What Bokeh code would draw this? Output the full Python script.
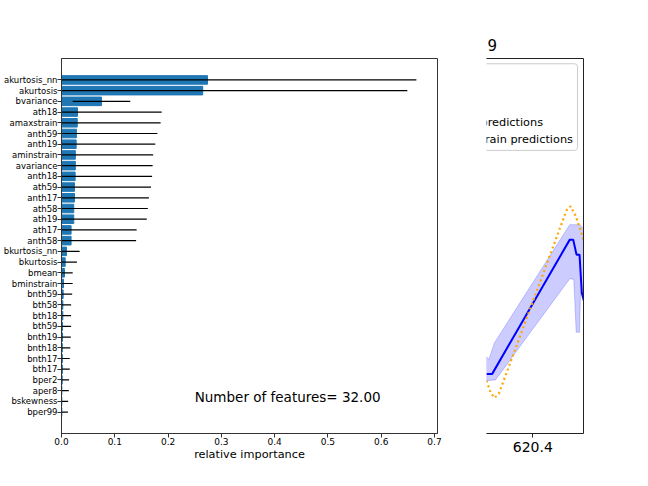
from bokeh.plotting import figure
from bokeh.models import (Range1d, FixedTicker, LinearAxis, Label,
                          ColumnDataSource, PrintfTickFormatter)
from bokeh.layouts import row
from bokeh.core.properties import value
from bokeh.embed import file_html
from bokeh.resources import INLINE

FONT = "DejaVu Sans"

# ---------------- data: left panel (feature importances) ----------------
features = ["akurtosis_nn", "akurtosis", "bvariance", "ath18", "amaxstrain", "anth59",
            "anth19", "aminstrain", "avariance", "anth18", "ath59", "anth17", "ath58",
            "ath19", "ath17", "anth58", "bkurtosis_nn", "bkurtosis", "bmean", "bminstrain",
            "bnth59", "bth58", "bth18", "bth59", "bnth19", "bnth18", "bnth17", "bth17",
            "bper2", "aper8", "bskewness", "bper99"]
importance = [0.274, 0.265, 0.075, 0.030, 0.0295, 0.028, 0.0275, 0.026, 0.026, 0.0256,
              0.0244, 0.0244, 0.023, 0.023, 0.018, 0.018, 0.0094, 0.0069, 0.0056, 0.0038,
              0.0031, 0.0025, 0.0025, 0.0019, 0.0019, 0.0016, 0.0016, 0.0016, 0.0013,
              0.0006, 0.0006, 0.0006]
importance_std = [0.392, 0.384, 0.054, 0.158, 0.1565, 0.152, 0.1485, 0.146, 0.145, 0.1444,
                  0.1436, 0.1396, 0.139, 0.137, 0.123, 0.122, 0.0246, 0.0221, 0.0154, 0.0172,
                  0.0169, 0.0155, 0.0155, 0.0161, 0.0156, 0.0149, 0.0139, 0.0139, 0.013,
                  0.0132, 0.0119, 0.0114]
x_ticks = [0.0, 0.1, 0.2, 0.3, 0.4, 0.5, 0.6, 0.7]
n_features_text = "Number of features= 32.00"

# ---------------- data: right panel (predictions) ----------------
mean_x = [620.2843, 620.2985, 620.4925, 620.5010, 620.5093, 620.5168, 620.5225, 620.5300]
mean_y = [1.59, 1.59, 5.17, 5.17, 4.77, 4.77, 3.75, 3.45]
upper_x = [620.2843, 620.2900, 620.3043, 620.4925, 620.5175, 620.5343]
upper_y = [2.05, 1.97, 2.42, 5.57, 5.57, 5.37]
lower_x = [620.2843, 620.3068, 620.4925, 620.5025, 620.5085, 620.5168, 620.5193, 620.5343]
lower_y = [1.41, 1.43, 4.13, 4.11, 2.70, 2.70, 3.77, 3.81]
obs_x = [620.2843, 620.2943, 620.3043, 620.3150, 620.4843, 620.4943, 620.5068, 620.5210, 620.5343]
obs_y = [1.41, 1.10, 0.95, 1.06, 5.95, 6.06, 5.81, 5.37, 4.88]
right_ticks = [620.4]
legend_labels = ["predictions", "train predictions"]
right_title = "9"

# ---------------- left figure ----------------
n = len(features)
ypos = [n - 1 - i for i in range(n)]
src = ColumnDataSource(dict(
    feature=features, imp=importance, y=ypos,
    lo=[m - s for m, s in zip(importance, importance_std)],
    hi=[m + s for m, s in zip(importance, importance_std)],
))

p = figure(width=478, height=470, x_range=Range1d(0, 0.7056), y_range=Range1d(-2, 33),
           output_backend="svg", toolbar_location=None,
           min_border_left=61, min_border_right=41, min_border_top=58, min_border_bottom=37)
p.background_fill_color = "white"
p.border_fill_color = "white"
p.xgrid.grid_line_color = None
p.ygrid.grid_line_color = None
p.outline_line_color = "#333333"
p.outline_line_width = 1

p.hbar(y="y", left=0, right="imp", height=0.8, fill_color="#1f77b4",
       line_color="#1f77b4", source=src)
p.segment(x0="lo", y0="y", x1="hi", y1="y", line_color="black", line_width=1.2, source=src)

p.xaxis.ticker = FixedTicker(ticks=x_ticks)
p.xaxis.formatter = PrintfTickFormatter(format="%.1f")
p.xaxis.axis_label = "relative importance"
p.xaxis.axis_label_text_font = FONT
p.xaxis.axis_label_text_font_size = "11.3px"
p.xaxis.axis_label_text_font_style = "normal"
p.xaxis.axis_label_text_color = "black"
p.xaxis.axis_label_standoff = 0
p.xaxis.major_label_text_font = FONT
p.xaxis.major_label_text_font_size = "9px"
p.xaxis.major_label_text_color = "black"
p.xaxis.major_label_standoff = 0
p.xaxis.major_tick_out = 4
p.xaxis.major_tick_in = 0
p.xaxis.minor_tick_line_color = None

p.yaxis.ticker = FixedTicker(ticks=ypos)
p.yaxis.major_label_overrides = {float(y): name for y, name in zip(ypos, features)}
p.yaxis.major_label_text_font = FONT
p.yaxis.major_label_text_font_size = "8.5px"
p.yaxis.major_label_text_color = "black"
p.yaxis.major_label_standoff = 0
p.yaxis.major_tick_out = 4
p.yaxis.major_tick_in = 0
p.yaxis.minor_tick_line_color = None
for ax in (p.xaxis, p.yaxis):
    ax.axis_line_color = "#333333"
    ax.major_tick_line_color = "#333333"

p.add_layout(Label(x=0.25, y=1.4, text=n_features_text, text_font=FONT,
                   text_font_size="13.5px", text_baseline="middle", text_color="black"))

# ---------------- right figure ----------------
p2 = figure(width=145, height=470, x_range=Range1d(620.28425, 620.52675),
            y_range=Range1d(0, 10), output_backend="svg", toolbar_location=None,
            min_border_left=8, min_border_right=40, min_border_top=58, min_border_bottom=37,
            y_axis_location=None, title=right_title)
p2.background_fill_color = "white"
p2.border_fill_color = "white"
p2.xgrid.grid_line_color = None
p2.ygrid.grid_line_color = None
p2.outline_line_color = None
p2.title.align = "left"
p2.title.offset = 1
p2.title.text_font = FONT
p2.title.text_font_size = "15px"
p2.title.text_font_style = "normal"
p2.title.text_color = "black"
p2.title.standoff = 16

p2.xaxis.ticker = FixedTicker(ticks=right_ticks)
p2.xaxis.major_label_text_font = FONT
p2.xaxis.major_label_text_font_size = "14px"
p2.xaxis.major_label_text_color = "black"
p2.xaxis.major_label_standoff = 4
p2.xaxis.major_tick_out = 4
p2.xaxis.major_tick_in = 0
p2.xaxis.minor_tick_line_color = None
p2.xaxis.axis_line_color = "#222222"
p2.xaxis.major_tick_line_color = "#222222"

for loc in ("above", "right"):
    ax = LinearAxis(ticker=FixedTicker(ticks=[]),
                    major_tick_out=0, major_tick_in=0, minor_tick_out=0, minor_tick_in=0,
                    major_label_standoff=0, axis_line_color="#222222",
                    major_tick_line_color=None, minor_tick_line_color=None)
    p2.add_layout(ax, loc)

band_x = upper_x + lower_x[::-1]
band_y = upper_y + lower_y[::-1]
p2.patch(band_x, band_y, fill_color="blue", fill_alpha=0.2, line_color="blue", line_alpha=0.2)
p2.line(mean_x, mean_y, line_color="blue", line_width=2)
p2.line(obs_x, obs_y, line_color="orange", line_width=2.2, line_dash="2 3")

p2.quad(left=620.24, right=620.5118, top=9.86, bottom=7.55, fill_color="white",
        fill_alpha=0.8, line_color="#cccccc", line_width=1, border_radius=3)
p2.text(x=[620.26925, 620.26925], y=[8.285, 7.84], text=legend_labels,
        text_font=value(FONT), text_font_size="11.3px", text_baseline="middle",
        text_color="black")

layout = row(p, p2)
open("out.html", "w").write(file_html(layout, INLINE))
